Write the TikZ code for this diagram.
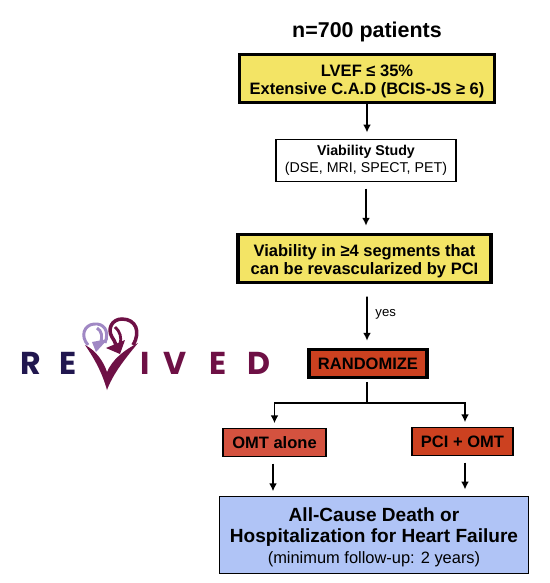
\documentclass[tikz,border=0pt]{standalone}
\usepackage{fontspec}
\setmainfont{Liberation Sans}
\newfontfamily\logofont{Poppins}
\usetikzlibrary{arrows.meta}
\definecolor{BoxYellow}{HTML}{F3E465}
\definecolor{BoxRed}{HTML}{CC4120}
\definecolor{BoxSalmon}{HTML}{D4523F}
\definecolor{BoxBlue}{HTML}{B0C4F6}
\definecolor{LogoNavy}{HTML}{21174F}
\definecolor{LogoMaroon}{HTML}{6E1045}
\definecolor{LogoLilac}{HTML}{A088C4}
\tikzset{
    FlowBox/.style={draw=black,inner sep=0pt,outer sep=0pt,align=center,text=black},
    HeavyBox/.style={FlowBox,line width=1.9pt,font=\fontsize{9.4}{10.4}\selectfont\bfseries},
    ThinBox/.style={FlowBox,line width=0.9pt},
    FlowArrow/.style={line width=1pt,-{Latex[length=4.5pt,width=4.5pt]}},
    LogoNavyText/.style={text=LogoNavy,inner sep=0pt,font=\fontsize{18}{18}\logofont\bfseries},
    LogoMaroonText/.style={text=LogoMaroon,inner sep=0pt,font=\fontsize{18}{18}\logofont\bfseries}
}
\begin{document}
\begin{tikzpicture}[x=0.02cm,y=-0.02cm]
    \useasboundingbox (0,0) rectangle (550,583);

    \node[font=\fontsize{12.2}{14}\selectfont\bfseries,inner sep=0pt] (TitleNode) at (367,32) {n=700 patients};
    \node[HeavyBox,fill=BoxYellow,minimum width=5.1cm,minimum height=0.96cm] (LvefBox) at (367,78.5) {\rule{0pt}{9.9pt}LVEF ≤ 35\%\\Extensive C.A.D (BCIS-JS ≥ 6)};
    \node[ThinBox,fill=white,minimum width=3.6cm,minimum height=0.84cm,font=\fontsize{8.1}{9.8}\selectfont] (StudyBox) at (366,160.5) {\textbf{Viability Study}\\(DSE, MRI, SPECT, PET)};
    \node[HeavyBox,fill=BoxYellow,minimum width=5.06cm,minimum height=0.96cm] (SegmentBox) at (364.5,258.5) {\rule{0pt}{9.9pt}Viability in ≥4 segments that\\can be revascularized by PCI};
    \node[HeavyBox,fill=BoxRed,minimum width=2.36cm,minimum height=0.56cm] (RandomBox) at (368,363.5) {RANDOMIZE};
    \node[ThinBox,fill=BoxSalmon,minimum width=2.06cm,minimum height=0.56cm,font=\fontsize{9.4}{12}\selectfont\bfseries] (OmtBox) at (274.5,442.5) {OMT alone};
    \node[ThinBox,fill=BoxRed,minimum width=2.02cm,minimum height=0.56cm,font=\fontsize{9.4}{12}\selectfont\bfseries] (PciBox) at (462.5,441.5) {PCI + OMT};
    \node[ThinBox,fill=BoxBlue,minimum width=6.18cm,minimum height=1.54cm] (OutcomeBox) at (374,535) {\rule{0pt}{10.3pt}\fontsize{10.85}{12.5}\selectfont\bfseries All-Cause Death or\\\fontsize{10.85}{12.5}\selectfont\bfseries Hospitalization for Heart Failure\\\fontsize{9.35}{12.5}\selectfont(minimum follow-up: 2 years)};

    \draw[FlowArrow,shorten <=1pt,shorten >=4pt] (LvefBox.south)--(LvefBox.south|-StudyBox.north);
    \draw[FlowArrow,shorten <=4pt,shorten >=5pt] (StudyBox.south)--(StudyBox.south|-SegmentBox.north);
    \draw[FlowArrow,shorten <=8pt,shorten >=5pt] ([xshift=0.05cm]SegmentBox.south)--([xshift=-0.02cm]RandomBox.north) node[pos=0.47,right=1pt,font=\fontsize{7.5}{9}\selectfont] {yes};

    \coordinate (SplitPoint) at (367,403);
    \draw[line width=1pt,shorten <=2.5pt] ([xshift=-0.02cm]RandomBox.south)--(SplitPoint);
    \draw[FlowArrow,shorten >=3pt] (SplitPoint)-|(OmtBox.north);
    \draw[FlowArrow,shorten >=3pt] (SplitPoint)-|([xshift=0.05cm]PciBox.north);
    \draw[FlowArrow,shorten <=4pt,shorten >=3pt] ([xshift=-0.03cm]OmtBox.south)--([xshift=-0.03cm]OmtBox.south|-OutcomeBox.north);
    \draw[FlowArrow,shorten <=4pt,shorten >=4pt] ([xshift=0.05cm]PciBox.south)--([xshift=0.05cm]PciBox.south|-OutcomeBox.north);

    \node[LogoNavyText] (LogoR) at (31,363.5) {R};
    \node[LogoNavyText] (LogoE) at (68,363.5) {E};
    \node[LogoMaroonText] (LogoI) at (145,363.5) {I};
    \node[LogoMaroonText] (LogoV) at (175,363.5) {V};
    \node[LogoMaroonText] (LogoEtwo) at (218,363.5) {E};
    \node[LogoMaroonText] (LogoD) at (258.5,363.5) {D};

    \draw[LogoLilac,line width=1.7pt] (105,343) .. controls (110,330) and (103,323) .. (94,324) .. controls (84,325) and (80,336) .. (88,345);
    \draw[LogoLilac,line width=1.7pt] (97,328) .. controls (102,331) and (103,337) .. (100,344);
    \fill[LogoLilac] (92,342)--(108,339)--(96,352)--cycle;
    \fill[LogoMaroon] (85,345) .. controls (95,350) and (103,360) .. (107,372) .. controls (112,360) and (124,350) .. (138,343) .. controls (124,360) and (113,374) .. (107,390) .. controls (102,372) and (94,358) .. (85,345)--cycle;
    \draw[LogoMaroon,line width=2pt] (133,345) .. controls (141,332) and (136,319) .. (122,319) .. controls (112,319) and (107,329) .. (112,337) .. controls (114,340) and (115,342) .. (116,345);
    \draw[LogoMaroon,line width=1.6pt] (115,327) .. controls (120,331) and (122,338) .. (120,344);
    \fill[LogoMaroon] (106,348)--(125,340)--(120,354)--cycle;
\end{tikzpicture}
\end{document}
